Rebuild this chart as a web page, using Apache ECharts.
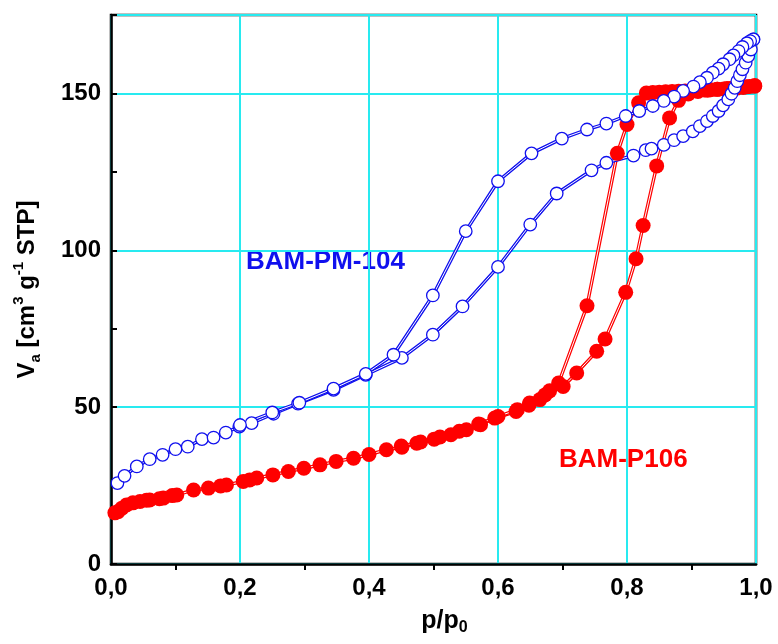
<!DOCTYPE html>
<html>
<head>
<meta charset="utf-8">
<script src="https://cdn.jsdelivr.net/npm/echarts@6/dist/echarts.min.js"></script>
<style>
  html, body { margin: 0; padding: 0; background: #fff; }
  #main { width: 778px; height: 644px; }
</style>
</head>
<body>
<div id="main"></div>
<script>
// BAM-P106 : adsorption / desorption [p/p0, Va]
var redAds = [[0.006,16.3],[0.011,16.7],[0.017,17.8],[0.024,18.8],[0.034,19.5],[0.045,19.9],[0.055,20.3],[0.060,20.4],
  [0.075,20.8],[0.081,21.0],[0.095,21.8],[0.102,22.0],[0.128,23.6],[0.151,24.2],[0.170,24.9],[0.179,25.2],[0.205,26.3],
  [0.215,26.8],[0.226,27.4],[0.251,28.4],[0.275,29.5],[0.299,30.5],[0.324,31.6],[0.349,32.7],[0.376,33.7],[0.400,34.9],
  [0.427,36.4],[0.451,37.2],[0.474,38.5],[0.501,39.8],[0.527,41.2],[0.551,42.8],[0.573,44.4],[0.595,46.5],[0.628,48.6],
  [0.649,51.3],[0.673,53.9],[0.701,56.6],[0.722,60.9],[0.753,67.8],[0.766,71.7],[0.798,86.6],[0.814,97.3],[0.825,107.9],
  [0.846,126.9],[0.866,142.2],[0.880,147.8],[0.895,149.8],[0.910,150.6],[0.925,151.0],[0.940,151.3],[0.955,151.6],
  [0.970,151.9],[0.985,152.1],[0.998,152.3]]
var redDes = [[0.998,152.5],[0.990,152.2],[0.980,151.9],[0.970,151.7],[0.960,151.6],[0.950,151.4],[0.940,151.3],[0.930,151.2],
  [0.920,151.1],[0.910,151.0],[0.900,150.9],[0.890,150.8],[0.880,150.7],[0.870,150.6],[0.860,150.5],[0.850,150.4],
  [0.840,150.3],[0.830,150.1],[0.818,147.0],[0.800,140.1],[0.785,130.9],[0.738,82.3],[0.694,57.7],[0.680,55.2],
  [0.665,52.4],[0.648,50.6],[0.630,49.2],[0.600,47.0],[0.570,44.6],[0.540,42.3],[0.510,40.5],[0.480,38.9],[0.450,37.6]]

// BAM-PM-104
var blueAds = [[0.010,25.8],[0.021,28.1],[0.040,31.1],[0.060,33.4],[0.080,34.8],[0.100,36.6],[0.119,37.4],[0.141,39.8],
  [0.159,40.3],[0.178,41.9],[0.199,43.8],[0.218,44.9],[0.252,47.9],[0.290,51.1],[0.345,55.5],[0.395,60.3],[0.451,65.7],
  [0.499,73.1],[0.545,82.1],[0.600,94.7],[0.650,108.2],[0.691,118.1],[0.745,125.5],[0.768,127.9],[0.810,130.2],
  [0.829,131.9],[0.838,132.4],[0.857,133.6],[0.873,135.1],[0.887,136.4],[0.902,137.9],[0.913,139.6],[0.924,141.2],
  [0.933,142.8],[0.942,144.4],[0.949,146.2],[0.957,148.1],[0.962,149.9],[0.967,151.8],[0.971,153.9],[0.975,155.8],
  [0.979,157.7],[0.984,159.8],[0.988,161.9],[0.992,164.0],[0.996,167.2]]
var blueDes = [[0.996,167.2],[0.991,166.7],[0.986,166.0],[0.979,164.8],[0.973,163.5],[0.965,162.1],[0.959,160.9],
  [0.949,159.3],[0.942,157.9],[0.933,156.6],[0.924,155.0],[0.913,153.6],[0.903,152.2],[0.887,150.8],[0.873,149.0],
  [0.857,147.6],[0.840,146.0],[0.819,144.4],[0.798,142.8],[0.768,140.4],[0.738,138.5],[0.699,135.6],[0.652,130.9],
  [0.600,122.0],[0.550,106.1],[0.499,85.6],[0.438,66.7],[0.395,60.6],[0.345,55.9],[0.292,51.4],[0.250,48.3],[0.200,44.3]]

var RED = '#ff0000'
var BLUE = '#1010ee'
var CYAN = '#28eaf0'
var FONT = 'Liberation Sans, Arial, sans-serif'

// one curve = thick coloured line + thin white line on top (double-line look) + symbols
function curve(data, color, hollow) {
  return [{
    type: 'line',
    data: data,
    showSymbol: false,
    silent: true,
    lineStyle: { color: color, width: 3.4 }
  }, {
    type: 'line',
    data: data,
    symbol: 'circle',
    symbolSize: hollow ? 12.5 : 15,
    silent: true,
    lineStyle: { color: '#fff', width: 1 },
    itemStyle: hollow ? { color: '#fff', borderColor: color, borderWidth: 1.3 } : { color: color, borderWidth: 0 }
  }]
}

var chart = echarts.init(document.getElementById('main'))
var option = {
  animation: false,
  backgroundColor: '#fff',
  textStyle: { fontFamily: FONT },
  grid: {
    left: 111, right: 22, top: 15, bottom: 80,
    show: true, borderColor: '#000', borderWidth: 2.5, backgroundColor: 'transparent'
  },
  xAxis: {
    type: 'value',
    min: 0, max: 1, interval: 0.2,
    name: '{b|p/p}{s|0}',
    nameLocation: 'middle',
    nameGap: 42,
    nameTextStyle: {
      padding: [0, 0, 0, 22],
      rich: {
        b: { fontSize: 25, fontWeight: 'bold', color: '#000', fontFamily: FONT, lineHeight: 30 },
        s: { fontSize: 16, fontWeight: 'bold', color: '#000', fontFamily: FONT, lineHeight: 15, verticalAlign: 'bottom' }
      }
    },
    axisLine: { lineStyle: { color: '#000', width: 2.5 } },
    axisTick: { show: false },
    minorTick: { show: true, splitNumber: 2, length: 6, lineStyle: { color: '#000', width: 2 } },
    axisLabel: {
      fontSize: 24, fontWeight: 'bold', color: '#000', margin: 12, fontFamily: FONT,
      formatter: function (v) { return v.toFixed(1).replace('.', ',') }
    },
    splitLine: { show: true, lineStyle: { color: CYAN, width: 2 } }
  },
  yAxis: [{
    type: 'value',
    min: 0, max: 175, interval: 50,
    name: '{b|V}{s|a}{b| [cm}{p|3}{b| g}{p|-1}{b| STP]}',
    nameLocation: 'middle',
    nameGap: 68,
    nameRotate: 90,
    nameTextStyle: {
      rich: {
        b: { fontSize: 24, fontWeight: 'bold', color: '#000', fontFamily: FONT, lineHeight: 32 },
        s: { fontSize: 15, fontWeight: 'bold', color: '#000', fontFamily: FONT, lineHeight: 15, verticalAlign: 'bottom' },
        p: { fontSize: 15, fontWeight: 'bold', color: '#000', fontFamily: FONT, lineHeight: 15, verticalAlign: 'top' }
      }
    },
    axisLine: { show: true, lineStyle: { color: '#000', width: 2.5 } },
    axisTick: { show: false },
    axisLabel: { fontSize: 24, fontWeight: 'bold', color: '#000', margin: 10, fontFamily: FONT, showMaxLabel: false },
    splitLine: { show: true, lineStyle: { color: CYAN, width: 2 } }
  }, {
    // tick-only axis every 25
    type: 'value',
    position: 'left',
    min: 0, max: 175, interval: 25,
    axisLine: { show: false },
    axisTick: { show: true, inside: true, length: 6, lineStyle: { color: '#000', width: 2 } },
    axisLabel: { show: false },
    splitLine: { show: false }
  }],
  graphic: [{
    type: 'text', left: 246, top: 249,
    style: { text: 'BAM-PM-104', fill: BLUE, font: 'bold 26px ' + FONT }
  }, {
    type: 'text', left: 559, top: 447,
    style: { text: 'BAM-P106', fill: RED, font: 'bold 26px ' + FONT }
  }],
  series: [].concat(
    curve(redAds, RED, false),
    curve(redDes, RED, false),
    curve(blueAds, BLUE, true),
    curve(blueDes, BLUE, true)
  )
}
chart.setOption(option)
</script>
</body>
</html>
